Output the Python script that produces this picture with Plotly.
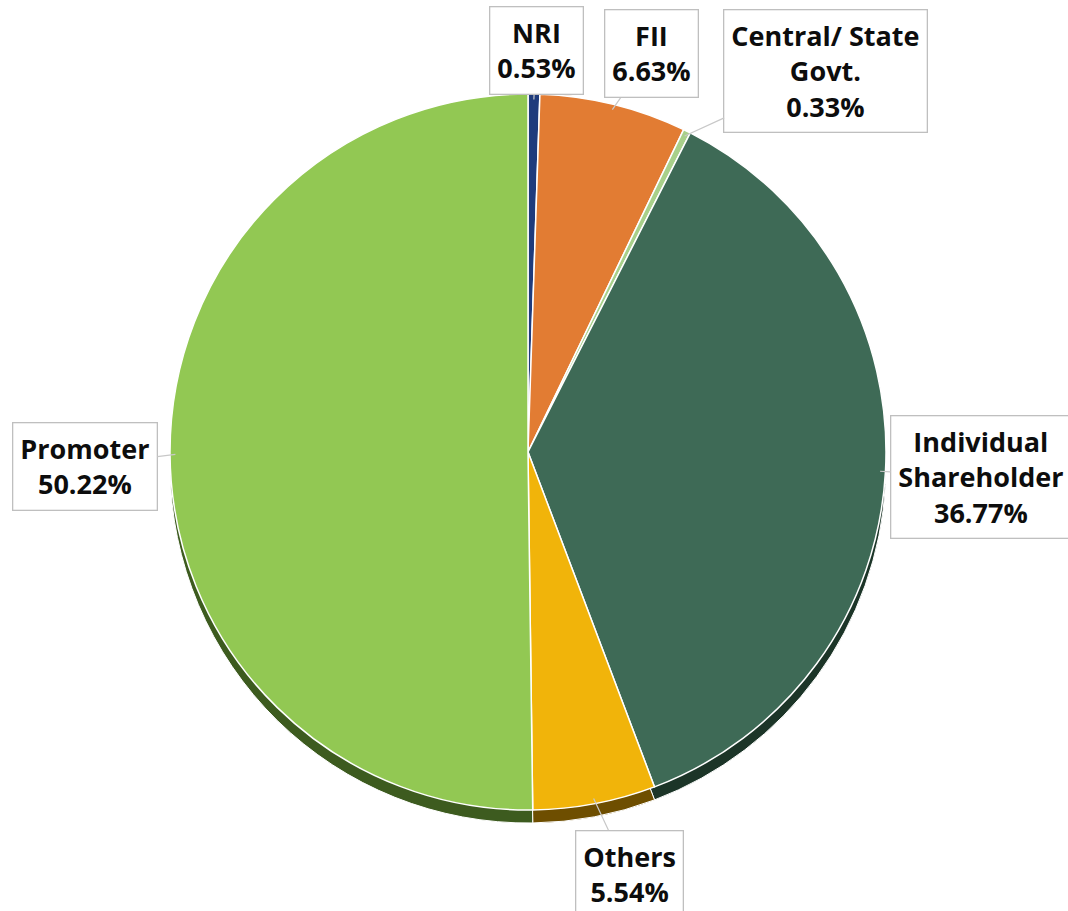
import math
import plotly.graph_objects as go

# Shareholding pattern, clockwise from 12 o'clock
labels = ["NRI", "FII", "Central/ State<br>Govt.", "Individual<br>Shareholder", "Others", "Promoter"]
shares = [0.53, 6.63, 0.33, 36.77, 5.54, 50.22]
colors = ["#1F3B7C", "#E27C33", "#A8D08A", "#3E6A56", "#F1B40A", "#92C853"]
edge_colors = ["#0F1D3E", "#70401A", "#566B45", "#1C3528", "#6E4E00", "#3D5B1F"]

W, H = 1068, 911
CX, CY, R = 528, 452, 358   # pie centre and radius in pixels
DEPTH = 13                  # thickness of the rim under the pie

def dom(cx, cy, r):
    return dict(x=[(cx - r) / W, (cx + r) / W],
                y=[(H - cy - r) / H, (H - cy + r) / H])

fig = go.Figure()
# rim: same pie, darker, pushed down
fig.add_trace(go.Pie(values=shares, labels=labels, sort=False, direction="clockwise",
                     rotation=0, textinfo="none", hoverinfo="skip",
                     marker=dict(colors=edge_colors, line=dict(color="white", width=1)),
                     domain=dom(CX, CY + DEPTH, R), showlegend=False))
fig.add_trace(go.Pie(values=shares, labels=labels, sort=False, direction="clockwise",
                     rotation=0, textinfo="none",
                     marker=dict(colors=colors, line=dict(color="white", width=1.5)),
                     domain=dom(CX, CY, R), showlegend=False))

# callout box centres (px)
box_centres = [(536, 51), (651, 54), (826, 71), (981, 477), (629, 874), (85, 466)]

total = sum(shares)
cum = 0.0
for lab, val, (bx, by) in zip(labels, shares, box_centres):
    mid = (cum + val / 2) / total * 2 * math.pi
    cum += val
    tx = CX + 0.985 * R * math.sin(mid)
    ty = CY - 0.985 * R * math.cos(mid)
    fig.add_annotation(
        x=tx / W, y=(H - ty) / H, xref="paper", yref="paper",
        ax=bx - tx, ay=by - ty, axref="pixel", ayref="pixel",
        text=f"<b>{lab}<br>{val:.2f}%</b>",
        showarrow=True, arrowhead=0, arrowwidth=1.2, arrowcolor="#C8C8C8", standoff=0,
        bgcolor="white", bordercolor="#BFBFBF", borderwidth=1.3, borderpad=7,
        font=dict(family="Open Sans", size=27, color="#0D0D0D"), align="center",
    )

fig.update_layout(width=W, height=H, margin=dict(l=0, r=0, t=0, b=0),
                  paper_bgcolor="white", plot_bgcolor="white", showlegend=False)
fig.write_html("out.html")
